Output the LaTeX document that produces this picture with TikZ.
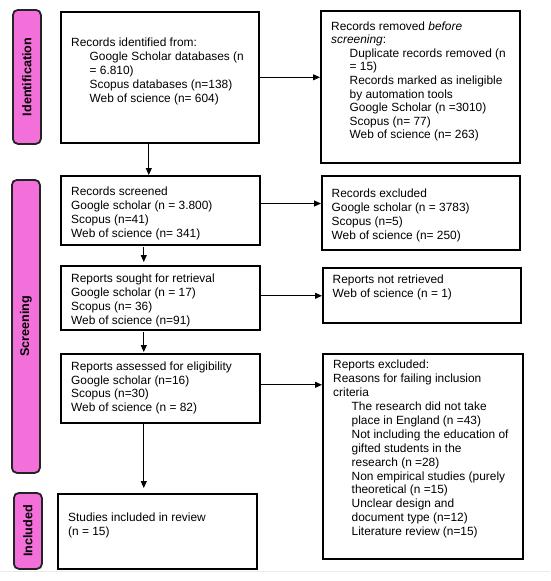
\documentclass[tikz,border=0pt]{standalone}
\usepackage{fontspec}
\setmainfont{Liberation Sans}
\usetikzlibrary{arrows.meta}
\definecolor{sidepink}{RGB}{243,112,218}
\definecolor{sideline}{RGB}{35,35,35}
\tikzset{
  box/.style={draw=black, line width=1.6pt, fill=white, anchor=north west, inner sep=0pt},
  side/.style={draw=sideline, line width=1.8pt, fill=sidepink, rounded corners=5pt, anchor=north west, inner sep=0pt},
  sidetxt/.style={rotate=90, font=\fontsize{12.6}{14}\selectfont\bfseries, inner sep=0pt},
  txt/.style={anchor=north west, inner sep=0pt, align=left, font=\fontsize{11.9}{13.8}\selectfont},
  arr/.style={draw=black, line width=0.9pt, -{Triangle[length=7pt,width=6pt]}}
}
\newcommand{\ind}{\hspace*{18.5pt}}
\begin{document}
\begin{tikzpicture}[x=1pt,y=-1pt]
\useasboundingbox (0,0) rectangle (550,581);
% faint strip at bottom
\draw[line width=1.5pt, black!8] (0,571.5) -- (550,571.5);
% sidebars
\node[side, minimum width=28pt, minimum height=134pt] (sid) at (12,9) {};
\node[sidetxt] (sidt) at (sid.center) {Identification};
\node[side, minimum width=28pt, minimum height=293pt] (sscr) at (11,179) {};
\node[sidetxt] (sscrt) at (sscr.center) {Screening};
\node[side, minimum width=28pt, minimum height=76pt] (sinc) at (13,492) {};
\node[sidetxt] (sinct) at (sinc.center) {Included};
% left boxes
\node[box, minimum width=198pt, minimum height=131pt] (b1) at (60,11) {};
\node[box, minimum width=199pt, minimum height=69pt] (b2) at (60,175) {};
\node[box, minimum width=199pt, minimum height=64pt] (b3) at (60,265) {};
\node[box, minimum width=199pt, minimum height=69pt] (b4) at (60,353) {};
\node[box, minimum width=199pt, minimum height=75pt] (b5) at (57,493) {};
% right boxes
\node[box, minimum width=199pt, minimum height=152pt] (r1) at (320,10) {};
\node[box, minimum width=198pt, minimum height=74pt] (r2) at (321,175) {};
\node[box, minimum width=198pt, minimum height=55pt] (r3) at (322,267) {};
\node[box, minimum width=200pt, minimum height=205pt] (r4) at (322,353) {};
% texts
\node[txt] (t1) at (71,38) {Records identified from:\\
\ind Google Scholar databases (n\\
\ind = 6.810)\\
\ind Scopus databases (n=138)\\
\ind Web of science (n= 604)};
\node[txt] (t2) at (71,187) {Records screened\\
Google scholar (n = 3.800)\\
Scopus (n=41)\\
Web of science (n= 341)};
\node[txt] (t3) at (71,274) {Reports sought for retrieval\\
Google scholar (n = 17)\\
Scopus (n= 36)\\
Web of science (n=91)};
\node[txt] (t4) at (71,361.5) {Reports assessed for eligibility\\
Google scholar (n=16)\\
Scopus (n=30)\\
Web of science (n = 82)};
\node[txt] (t5) at (68,513) {Studies included in review\\
(n = 15)};
\node[txt, font=\fontsize{11.9}{13.55}\selectfont] (u1) at (331,21.5) {Records removed \textit{before}\\
\textit{screening}:\\
\ind Duplicate records removed (n\\
\ind = 15)\\
\ind Records marked as ineligible\\
\ind by automation tools\\
\ind Google Scholar (n =3010)\\
\ind Scopus (n= 77)\\
\ind Web of science (n= 263)};
\node[txt] (u2) at (331.5,189) {Records excluded\\
Google scholar (n = 3783)\\
Scopus (n=5)\\
Web of science (n= 250)};
\node[txt] (u3) at (332.5,275) {Reports not retrieved\\
Web of science (n = 1)};
\node[txt, font=\fontsize{11.9}{13.9}\selectfont] (u4) at (333,360) {Reports excluded:\\
Reasons for failing inclusion\\
criteria\\
\ind The research did not take\\
\ind place in England (n =43)\\
\ind Not including the education of\\
\ind gifted students in the\\
\ind research (n =28)\\
\ind Non empirical studies (purely\\
\ind theoretical (n =15)\\
\ind Unclear design and\\
\ind document type (n=12)\\
\ind Literature review (n=15)};
% vertical arrows
\draw[arr] ([xshift=-11pt]b1.south) -- ([xshift=-11pt]b1.south |- b2.north);
\draw[arr, shorten <=1.5pt, shorten >=3pt] ([xshift=-16.5pt]b2.south) -- ([xshift=-16.5pt]b2.south |- b3.north);
\draw[arr, shorten <=1.5pt, shorten >=1pt] ([xshift=-16.5pt]b3.south) -- ([xshift=-16.5pt]b3.south |- b4.north);
\draw[arr, shorten >=5pt] ([xshift=-16.5pt]b4.south) -- ([xshift=-16.5pt]b4.south |- b5.north);
% horizontal arrows
\draw[arr] (b1.east) -- (b1.east -| r1.west);
\draw[arr] ([yshift=6.8pt]b2.east) -- ([yshift=6.8pt]b2.east -| r2.west);
\draw[arr] ([yshift=2pt]b3.east) -- ([yshift=2pt]b3.east -| r3.west);
\draw[arr] ([yshift=3.5pt]b4.east) -- ([yshift=3.5pt]b4.east -| r4.west);
\end{tikzpicture}
\end{document}
